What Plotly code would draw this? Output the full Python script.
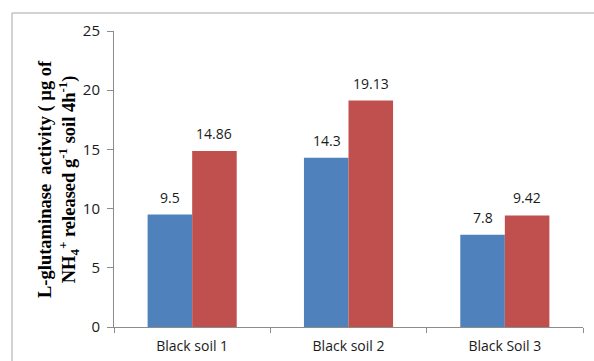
import plotly.graph_objects as go

categories = ["Black soil 1", "Black soil 2", "Black Soil 3"]
series_a = [9.5, 14.3, 7.8]
series_b = [14.86, 19.13, 9.42]
y_ticks = [0, 5, 10, 15, 20, 25]

W, H = 594, 361
L, R, T, B = 114, 11, 31, 34
pw, ph = W - L - R, H - T - B
FONT = "Open Sans, Liberation Sans, sans-serif"


def px_x(x):
    return (x - L) / pw


def px_y(y):
    return (H - B - y) / ph


fig = go.Figure()
labels = []
for vals, color, shift in [(series_a, "#4F81BD", -22), (series_b, "#C0504D", 22)]:
    fig.add_trace(go.Bar(x=categories, y=vals, marker_color=color, marker_line_width=0))
    for c, v in zip(categories, vals):
        labels.append(dict(
            x=c, y=v, xref="x", yref="y", text=f"{v:g}", showarrow=False,
            xshift=shift, yshift=6, yanchor="bottom", xanchor="center",
            font=dict(family=FONT, size=14, color="#1a1a1a"),
        ))

labels.append(dict(
    xref="paper", yref="paper", x=px_x(58), y=px_y(179),
    xanchor="center", yanchor="middle", textangle=-90, showarrow=False,
    text="<b>L-glutaminase\u00a0 activity ( µg of<br>NH<sub>4</sub><sup>+</sup> released g<sup>-1</sup> soil 4h<sup>-1</sup>)</b>",
    font=dict(family="Liberation Serif, Times New Roman, serif", size=18.5, color="black"),
    align="center",
))

fig.update_layout(
    width=W, height=H,
    margin=dict(l=L, r=R, t=T, b=B, autoexpand=False),
    paper_bgcolor="white", plot_bgcolor="white",
    barmode="group", bargap=0.43, bargroupgap=0,
    showlegend=False,
    font=dict(family=FONT, size=14, color="#1a1a1a"),
    xaxis=dict(
        showline=True, linecolor="#8c8c8c", linewidth=1, automargin=False,
        ticks="outside", tickson="boundaries", ticklen=5, tickcolor="#8c8c8c",
        showgrid=False, tickfont=dict(size=14), ticklabelstandoff=6,
    ),
    yaxis=dict(
        range=[0, 25], tickvals=y_ticks, showline=True, linecolor="#8c8c8c", linewidth=1,
        ticks="outside", ticklen=6, tickcolor="#8c8c8c", showgrid=False, zeroline=False,
        tickfont=dict(size=15), ticklabelstandoff=4, automargin=False,
    ),
    shapes=[
        dict(type="line", xref="paper", yref="paper", x0=px_x(12), x1=px_x(W + 5),
             y0=px_y(13), y1=px_y(13), line=dict(color="#a6a6a6", width=1)),
        dict(type="line", xref="paper", yref="paper", x0=px_x(12), x1=px_x(12),
             y0=px_y(13), y1=px_y(H + 5), line=dict(color="#a6a6a6", width=1)),
    ],
    annotations=labels,
)

fig.write_html("out.html")
